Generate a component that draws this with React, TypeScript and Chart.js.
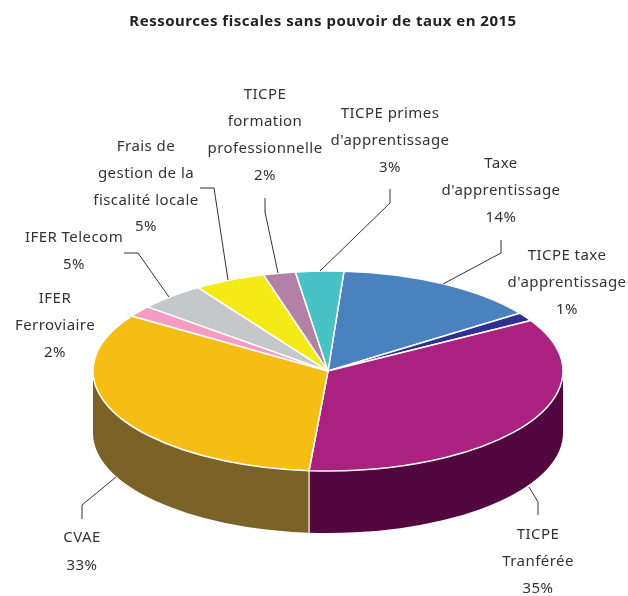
import React, { useEffect, useRef } from "react";
import { Chart, registerables } from "chart.js";

Chart.register(...registerables);

const categories = [
  "Taxe d'apprentissage",
  "TICPE taxe d'apprentissage",
  "TICPE Tranférée",
  "CVAE",
  "IFER Ferroviaire",
  "IFER Telecom",
  "Frais de gestion de la fiscalité locale",
  "TICPE formation professionnelle",
  "TICPE primes d'apprentissage",
];
const shares = [14.1, 1.4, 34.7, 33, 1.8, 4.6, 4.9, 2.2, 3.3];
const topColors = ["#4A82C0", "#2E3192", "#AB217F", "#F6BE15", "#F59CC5", "#C6C7C9", "#F3EA16", "#B381A6", "#49C2C6"];
const wallColors = ["#2B4C70", "#1A1C55", "#52073F", "#7B6328", "#8F5B73", "#737475", "#8D880D", "#684B60", "#2A7173"];

const labelLines = [
  ["Taxe", "d'apprentissage", "14%"],
  ["TICPE taxe", "d'apprentissage", "1%"],
  ["TICPE", "Tranférée", "35%"],
  ["CVAE", "33%"],
  ["IFER", "Ferroviaire", "2%"],
  ["IFER Telecom", "5%"],
  ["Frais de", "gestion de la", "fiscalité locale", "5%"],
  ["TICPE", "formation", "professionnelle", "2%"],
  ["TICPE primes", "d'apprentissage", "3%"],
];

// Label placement: centre x, first line middle y, line pitch
const labelBoxes = [
  [501, 164, 27], [567, 256, 27], [538, 535, 27], [82, 538, 27.5], [55, 299, 27],
  [74, 238, 27], [146, 147, 26.7], [265, 95, 27], [390, 114, 27],
];
const leaders: number[][][] = [
  [[501, 240], [501, 253], [443, 284]],
  [],
  [[538, 515], [538, 502], [529, 487]],
  [[82, 519], [82, 505], [116, 477]],
  [],
  [[124, 253], [138, 253], [169, 297]],
  [[200, 188], [214, 188], [228, 280]],
  [[265, 198], [265, 212], [278, 273]],
  [[390, 189], [390, 203], [320, 271]],
];

const PIE = { cx: 328, cy: 371, ry: 100, depth: 62 };
const FONT = "'Noto Sans'";

const pie3d = {
  id: "pie3d",
  beforeDraw(chart: any) {
    (chart.ctx as any).letterSpacing = "0.5px";
  },
  beforeDatasetDraw(chart: any, args: any) {
    const { ctx } = chart;
    const arcs = args.meta.data;
    const ellipse = (r: number, dy: number, s: number, e: number, ccw = false) =>
      ctx.ellipse(PIE.cx, PIE.cy + dy, r, PIE.ry, 0, s, e, ccw);
    // extruded wall: only the front half of the rim shows
    arcs.forEach((a: any, i: number) => {
      const s = Math.max(a.startAngle, 0);
      const e = Math.min(a.endAngle, Math.PI);
      if (e <= s) return;
      ctx.beginPath();
      ellipse(a.outerRadius, 0, s, e);
      ellipse(a.outerRadius, PIE.depth, e, s, true);
      ctx.closePath();
      ctx.fillStyle = wallColors[i];
      ctx.fill();
    });
    // white edge where two visible wall faces meet
    arcs.forEach((a: any) => {
      const y = Math.sin(a.endAngle) * PIE.ry;
      if (y > 0) {
        const x = Math.cos(a.endAngle) * a.outerRadius + PIE.cx;
        ctx.beginPath();
        ctx.moveTo(x, PIE.cy + y);
        ctx.lineTo(x, PIE.cy + y + PIE.depth);
        ctx.strokeStyle = "#fff";
        ctx.lineWidth = 1.2;
        ctx.stroke();
      }
    });
    // top face
    arcs.forEach((a: any) => {
      ctx.beginPath();
      ctx.moveTo(PIE.cx, PIE.cy);
      ellipse(a.outerRadius, 0, a.startAngle, a.endAngle);
      ctx.closePath();
      ctx.fillStyle = a.options.backgroundColor;
      ctx.fill();
      ctx.strokeStyle = "#fff";
      ctx.lineWidth = 1.5;
      ctx.lineJoin = "round";
      ctx.stroke();
    });
    return false;
  },
  afterDatasetsDraw(chart: any) {
    const { ctx } = chart;
    ctx.save();
    ctx.strokeStyle = "#333";
    ctx.lineWidth = 1;
    leaders.forEach((pts) => {
      if (!pts.length) return;
      ctx.beginPath();
      pts.forEach(([x, y], i) => (i ? ctx.lineTo(x, y) : ctx.moveTo(x, y)));
      ctx.stroke();
    });
    ctx.fillStyle = "#333";
    ctx.font = `15px ${FONT}`;
    (ctx as any).letterSpacing = "0.45px";
    ctx.textAlign = "center";
    ctx.textBaseline = "middle";
    labelLines.forEach((lines, i) => {
      const [x, y, pitch] = labelBoxes[i];
      lines.forEach((t, j) => ctx.fillText(t, x, y + j * pitch));
    });
    ctx.restore();
  },
};

export default function App() {
  const ref = useRef<HTMLCanvasElement>(null);
  useEffect(() => {
    document.body.style.margin = "0";
    const chart = new Chart(ref.current!, {
      type: "pie",
      data: {
        labels: categories,
        datasets: [{ data: shares, backgroundColor: topColors, borderWidth: 0 }],
      },
      options: {
        responsive: false,
        animation: false,
        rotation: 3.9,
        radius: 235,
        layout: { padding: { left: 18 } },
        events: [],
        plugins: {
          legend: { display: false },
          tooltip: { enabled: false },
          title: {
            display: true,
            text: "Ressources fiscales sans pouvoir de taux en 2015",
            fullSize: false,
            color: "#222",
            font: { family: FONT, size: 15, weight: "bold" },
            padding: { top: 13, bottom: 10 },
          },
        },
      } as any,
      plugins: [pie3d],
    });
    return () => chart.destroy();
  }, []);
  return <canvas ref={ref} width={628} height={596} style={{ display: "block" }} />;
}
